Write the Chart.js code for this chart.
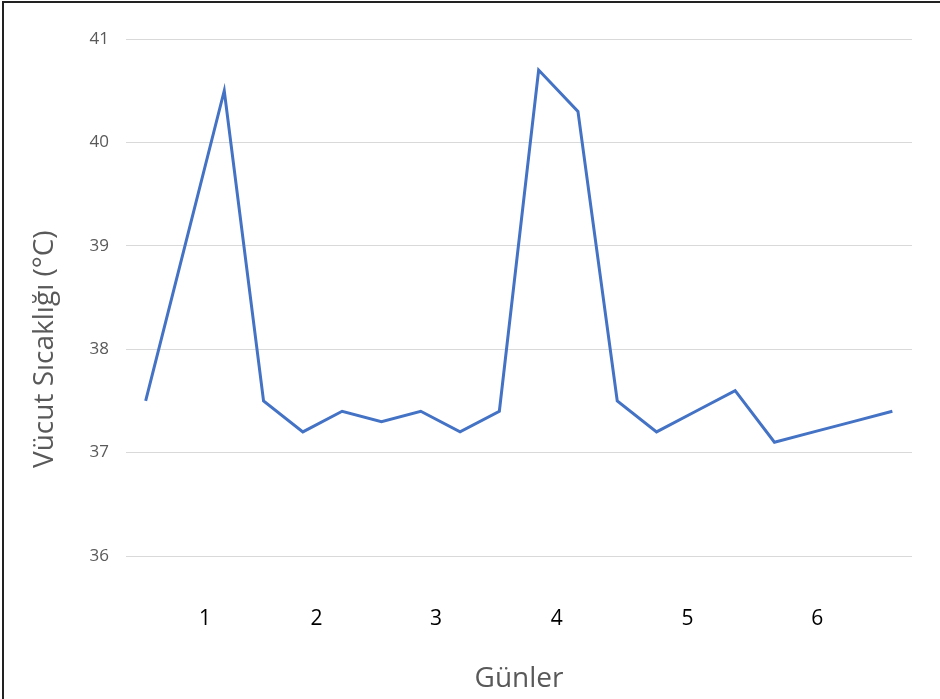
<!DOCTYPE html>
<html lang="tr">
<head>
    <meta charset="UTF-8">
    <title>Vücut Sıcaklığı</title>
    <script src="https://cdn.jsdelivr.net/npm/chart.js@4.4.1/dist/chart.umd.min.js"></script>
    <style>
        body { margin: 0; background: #fff; }
        .wrap { position: relative; width: 940px; height: 699px; }
        .wrap canvas { position: absolute; left: 0; top: 0; }
        .frame { position: absolute; left: 2px; top: 1px; right: 0; bottom: 0;
                 border-left: 2px solid #222; border-top: 2px solid #222; pointer-events: none; }
    </style>
</head>
<body>
<div class="wrap">
    <canvas id="chart" width="940" height="699"></canvas>
    <div class="frame"></div>
</div>
<script>
    // olcumler (20 olcum, 6 gun)
    const temps = [37.5, 39.0, 40.5, 37.5, 37.2, 37.4, 37.3, 37.4, 37.2, 37.4,
                   40.7, 40.3, 37.5, 37.2, 37.4, 37.6, 37.1, 37.2, 37.3, 37.4];
    // gun etiketleri ve olcum sirasindaki yerleri
    const dayLabels = ["1", "2", "3", "4", "5", "6"];
    const dayAt = [1.51, 4.35, 7.39, 10.46, 13.79, 17.09];
    const yTicks = [36, 37, 38, 39, 40, 41];
    const yTitle = 'Vücut Sıcaklığı (°C)';

    const gray = '#595959';
    const font = "'Open Sans', sans-serif";

    // y ekseni basligi: grafikte biraz asagida duruyor
    const yTitlePlugin = {
        id: 'yTitle',
        afterDraw(chart) {
            const { ctx, chartArea } = chart;
            ctx.save();
            ctx.translate(45, chartArea.top + chartArea.height * 0.6);
            ctx.rotate(-Math.PI / 2);
            ctx.fillStyle = gray;
            ctx.font = "28px " + font;
            ctx.textAlign = 'center';
            ctx.textBaseline = 'middle';
            ctx.fillText(yTitle, 0, 0);
            ctx.restore();
        }
    };

    new Chart(document.getElementById('chart'), {
        type: 'line',
        data: {
            datasets: [{
                data: temps.map((v, i) => ({ x: i, y: v })),
                borderColor: '#4472C4',
                borderWidth: 3,
                pointRadius: 0,
                tension: 0,
                fill: false
            }]
        },
        plugins: [yTitlePlugin],
        options: {
            responsive: false,
            animation: false,
            layout: { padding: { left: 0, top: 39, right: 28, bottom: 0 } },
            plugins: { legend: { display: false }, tooltip: { enabled: false } },
            scales: {
                x: {
                    type: 'linear',
                    min: -0.5,
                    max: 19.5,
                    afterBuildTicks: s => { s.ticks = dayAt.map(v => ({ value: v })); },
                    afterFit: s => { s.height = 143; },
                    grid: { display: false },
                    border: { display: false },
                    ticks: {
                        autoSkip: false,
                        maxRotation: 0,
                        padding: 42,
                        color: '#000',
                        font: { family: font, size: 21 },
                        callback: (v, i) => dayLabels[i]
                    },
                    title: {
                        display: true,
                        text: 'Günler',
                        color: gray,
                        font: { family: font, size: 28 },
                        padding: { top: 0, bottom: 3 }
                    }
                },
                y: {
                    min: 36,
                    max: 41,
                    afterBuildTicks: s => { s.ticks = yTicks.map(v => ({ value: v })); },
                    afterFit: s => { s.width = 126; },
                    grid: { color: '#d9d9d9', lineWidth: 1, drawTicks: false },
                    border: { display: false },
                    ticks: {
                        padding: 17,
                        color: gray,
                        font: { family: font, size: 17 }
                    },
                    title: { display: false }
                }
            }
        }
    });
</script>
</body>
</html>
